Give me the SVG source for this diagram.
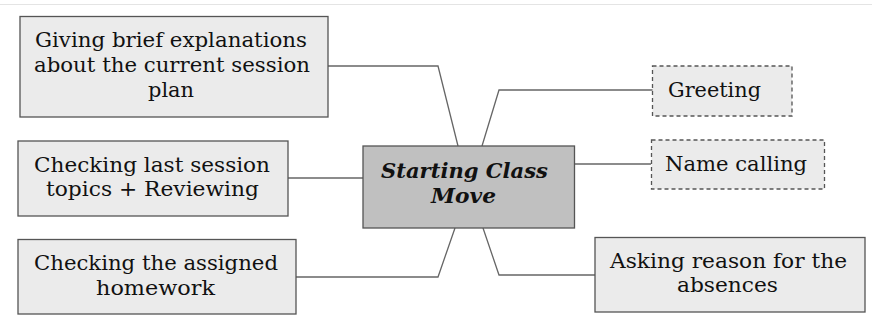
<svg xmlns="http://www.w3.org/2000/svg" width="872" height="323" viewBox="0 0 872 323">
<style>
.box{fill:#ebebeb;stroke:#555;stroke-width:1.3}
.dash{fill:#ebebeb;stroke:#555;stroke-width:1.3;stroke-dasharray:4 3}
.core{fill:#c0c0c0;stroke:#555;stroke-width:1.3}
.t{font-family:'DejaVu Serif','Liberation Serif',serif;font-size:19.5px;fill:#111}
.b{font-family:'DejaVu Serif','Liberation Serif',serif;font-size:19.5px;font-weight:bold;font-style:italic;fill:#111}
.c{fill:none;stroke:#666;stroke-width:1.3}
</style>
<rect width="872" height="323" fill="#fff"/>
<line x1="0" y1="4.5" x2="872" y2="4.5" stroke="#e4e4e4" stroke-width="1"/>
<g id="connectors">
<polyline class="c" points="328,66 438,66 458,146"/>
<polyline class="c" points="288,178 363,178"/>
<polyline class="c" points="296,277 438,277 455,228"/>
<polyline class="c" points="482,146 499,90 653,90"/>
<polyline class="c" points="575,164 651,164"/>
<polyline class="c" points="483,228 499,275 595,275"/>
</g>
<g id="n-explain">
<rect class="box" x="20" y="16.5" width="308" height="100.5"/>
<text class="t" x="35" y="47" textLength="272" lengthAdjust="spacingAndGlyphs">Giving brief explanations</text>
<text class="t" x="34" y="72" textLength="276" lengthAdjust="spacingAndGlyphs">about the current session</text>
<text class="t" x="148" y="97" textLength="46" lengthAdjust="spacingAndGlyphs">plan</text>
</g>
<g id="n-checking-last">
<rect class="box" x="18" y="141" width="270" height="75"/>
<text class="t" x="34" y="172" textLength="236" lengthAdjust="spacingAndGlyphs">Checking last session</text>
<text class="t" x="46" y="196" textLength="213" lengthAdjust="spacingAndGlyphs">topics + Reviewing</text>
</g>
<g id="n-homework">
<rect class="box" x="18" y="239.5" width="278" height="74.5"/>
<text class="t" x="34" y="270" textLength="244" lengthAdjust="spacingAndGlyphs">Checking the assigned</text>
<text class="t" x="96" y="295" textLength="119" lengthAdjust="spacingAndGlyphs">homework</text>
</g>
<g id="n-center">
<rect class="core" x="363" y="146" width="211.5" height="82"/>
<text class="b" x="381" y="178" textLength="167" lengthAdjust="spacingAndGlyphs">Starting Class</text>
<text class="b" x="431" y="203" textLength="65" lengthAdjust="spacingAndGlyphs">Move</text>
</g>
<g id="n-greeting">
<rect class="dash" x="652.5" y="66" width="139.5" height="50"/>
<text class="t" x="668" y="97" textLength="93" lengthAdjust="spacingAndGlyphs">Greeting</text>
</g>
<g id="n-name">
<rect class="dash" x="651.5" y="140" width="173" height="49"/>
<text class="t" x="665" y="171" textLength="142" lengthAdjust="spacingAndGlyphs">Name calling</text>
</g>
<g id="n-asking">
<rect class="box" x="595" y="237.5" width="270" height="74.5"/>
<text class="t" x="610" y="268" textLength="237" lengthAdjust="spacingAndGlyphs">Asking reason for the</text>
<text class="t" x="677" y="292" textLength="101" lengthAdjust="spacingAndGlyphs">absences</text>
</g>
</svg>
